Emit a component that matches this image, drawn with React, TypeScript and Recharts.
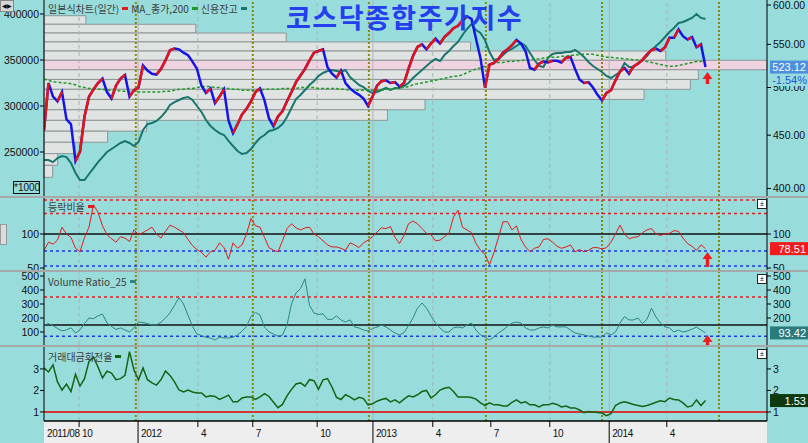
import React from "react";
import {
  ComposedChart,
  Line,
  XAxis,
  YAxis,
  ReferenceLine,
  ReferenceArea,
  ReferenceDot,
} from "recharts";

// weekly samples, Aug 2011 .. Jun 2014 (index = week)
const price = [
  455, 505, 490, 485, 495, 466, 461, 425, 434, 469,
  490, 498, 505, 510, 495, 488, 502, 510, 514, 490,
  497, 500, 525, 519, 515.5, 514.5, 521, 531, 543, 545,
  544, 540, 537, 529.5, 521, 502, 494, 499, 483, 490,
  498, 465, 452, 461, 471, 477, 485, 495, 499, 486,
  467, 459, 469, 474.5, 485, 495, 506, 513.5, 521, 531,
  540, 542, 544, 523, 515.5, 511, 519, 505, 499, 495,
  492, 488, 480, 490, 502, 507, 508, 505, 506, 501,
  505, 521, 536, 547, 550, 544, 551, 557, 551, 559,
  564, 570, 573, 580, 585, 582, 557, 533.5, 500, 526,
  528, 532.5, 540, 544, 549, 555.5, 551, 542, 522, 520,
  527, 529.5, 528.5, 530.5, 530.5, 528.5, 534, 535, 521, 509,
  505, 506, 500, 492, 486, 494, 497, 508, 518, 522,
  515.5, 524, 527, 531.5, 538, 543, 545, 542, 546.5, 558,
  558, 568.5, 560, 556, 559, 546.5, 550, 523.12,
];

const ma200 = [
  509.3, 508.2, 506.1, 506.1, 505.1, 505.1, 504.1, 503, 501, 500,
  499, 499, 498, 498, 497, 497, 497, 496, 496, 496,
  496, 495, 495, 495, 495, 495, 495, 496, 496, 497,
  498, 498, 499, 499, 500, 501, 501, 501, 500, 500,
  499, 499, 498, 498, 497, 497, 497, 497, 497, 498,
  498, 498, 498, 499, 499, 499, 499, 500, 500, 500,
  500, 499, 499, 499, 499, 499, 498, 498, 497, 497,
  497, 497, 497, 497, 497, 497, 498, 498, 499, 500,
  500, 501, 503, 504.1, 505.1, 506.1, 507.2, 508.2, 509.3, 510.3,
  511.4, 512.5, 512.5, 514.5, 516.6, 518.8, 521, 522, 524, 526,
  527.3, 528.4, 528.4, 529.5, 529.5, 530.5, 530.5, 531.4, 531.4, 532.5,
  532.5, 533.6, 534.7, 534.7, 534.7, 535.8, 535.8, 537, 537, 538,
  538, 538, 538, 537, 535.8, 534.7, 534.7, 533.6, 533.6, 532.5,
  532.5, 531.4, 531.4, 530.5, 529.5, 528.4, 527.3, 526, 525, 524,
  524, 525, 526, 527.3, 528.4, 529.5, 529.5, 530.5,
];

const credit = [
  241300, 241300, 239000, 243500, 245600, 244500, 238000, 227200, 219600, 219600,
  226100, 232600, 239000, 244500, 250000, 253300, 256500, 259800, 262000, 259800,
  256500, 260900, 273900, 280400, 281500, 283700, 288000, 293500, 301100, 304300,
  306500, 308700, 309800, 306500, 300000, 293500, 284800, 278300, 273900, 270600,
  268500, 262000, 256500, 251100, 247800, 248900, 253300, 259800, 265200, 268500,
  272800, 273900, 276100, 280400, 288000, 297800, 307600, 312000, 317400, 322800,
  327200, 332600, 335900, 338000, 339100, 338000, 337000, 339100, 331500, 327200,
  322800, 320600, 316300, 314100, 315200, 317400, 319600, 317400, 319600, 319600,
  321700, 325000, 330400, 334800, 339100, 343500, 347800, 351100, 348900, 355400,
  359800, 365200, 369600, 377200, 383700, 389100, 382600, 379300, 371700, 358700,
  350000, 351100, 355400, 359800, 362000, 365200, 368500, 365200, 357600, 350000,
  343500, 342400, 352200, 356500, 357600, 357600, 358700, 358700, 360900, 357600,
  353300, 347800, 343500, 340200, 337000, 332600, 330400, 333700, 337000, 346700,
  342400, 342400, 346700, 350000, 354300, 360900, 365200, 369600, 375000, 380400,
  384800, 390200, 391300, 393500, 395700, 400000, 395700, 394600,
];

const adr = [
  76, 88, 85, 91, 110, 100, 95, 79, 74, 95,
  110, 143, 132, 112, 99, 93, 88, 96, 94, 89,
  106, 99, 102, 106, 110, 100, 94, 104, 113, 110,
  106, 102, 92, 83, 77, 73, 66, 74, 76, 87,
  80, 63, 87, 79, 84, 100, 123, 112, 110, 95,
  80, 76, 74, 90, 108, 115, 109, 106, 109, 110,
  100, 96, 90, 84, 81, 81, 79, 76, 87, 84,
  80, 87, 91, 96, 103, 109, 108, 111, 95, 86,
  98, 115, 119, 115, 108, 101, 99, 90, 91, 96,
  101, 125, 135, 110, 106, 102, 86, 76, 70, 55,
  73, 95, 118, 118, 106, 112, 92, 81, 74, 79,
  81, 92, 93, 88, 82, 79, 81, 84, 74, 77,
  74, 76, 80, 80, 78, 80, 88, 100, 113, 100,
  93, 95, 96, 102, 106, 108, 100, 98, 100, 101,
  105, 104, 94, 86, 82, 76, 84, 78.51,
];

const volRatio = [
  150, 160, 145, 125, 108, 115, 130, 93, 114, 160,
  200, 195, 215, 228, 164, 140, 118, 129, 114, 100,
  130, 171, 168, 160, 150, 150, 170, 200, 236, 290,
  345, 300, 220, 140, 85, 75, 62, 57, 43, 62,
  58, 57, 62, 80, 105, 140, 210, 240, 220, 135,
  100, 85, 70, 78, 150, 300, 379, 410, 480, 290,
  236, 225, 230, 190, 190, 215, 186, 171, 186, 136,
  129, 114, 107, 125, 135, 150, 136, 114, 93, 79,
  95, 145, 200, 271, 307, 270, 215, 164, 129, 100,
  100, 129, 136, 129, 150, 164, 114, 79, 64, 43,
  64, 93, 114, 140, 164, 171, 164, 129, 114, 114,
  129, 136, 129, 150, 136, 136, 136, 114, 93, 86,
  79, 71, 64, 64, 64, 93, 79, 100, 164, 210,
  186, 186, 200, 160, 190, 270, 207, 164, 136, 129,
  100, 114, 100, 107, 120, 135, 114, 93.42,
];

const turnover = [
  3.05, 2.86, 3.19, 2.4, 2.02, 2.3, 1.95, 2.75, 2.2, 2.55,
  3.35, 3.55, 3.09, 2.58, 2.9, 2.81, 2.5, 2.55, 2.7, 3.8,
  2.95, 2.5, 3.05, 2.5, 2.35, 2.25, 2.5, 2.9, 2.7, 2.4,
  2.02, 1.93, 2.02, 1.93, 1.88, 1.88, 1.7, 1.75, 1.72, 1.58,
  1.68, 1.78, 1.47, 1.47, 1.65, 1.7, 1.7, 1.58, 1.7, 1.85,
  1.72, 1.45, 1.2, 1.35, 1.75, 2.05, 2.3, 2.35, 2.2, 2.5,
  2.45, 2.05, 2.49, 2.55, 2.16, 1.68, 1.58, 1.8, 1.7, 1.56,
  1.68, 1.62, 1.33, 1.38, 1.5, 1.58, 1.63, 1.47, 1.56, 1.42,
  1.6, 1.75, 1.7, 1.8, 1.95, 2.0, 1.65, 1.8, 2.02, 2.1,
  2.15, 1.95, 1.7, 1.7, 1.7, 1.67, 1.6, 1.42, 1.3, 1.42,
  1.33, 1.33, 1.28, 1.28, 1.45, 1.56, 1.42, 1.47, 1.33, 1.33,
  1.23, 1.33, 1.33, 1.4, 1.35, 1.23, 1.28, 1.19, 1.19, 1.09,
  0.97, 1.02, 1.0, 0.98, 0.95, 0.83, 0.92, 1.3, 1.42, 1.47,
  1.42, 1.35, 1.3, 1.25, 1.3, 1.37, 1.45, 1.52, 1.48, 1.65,
  1.58, 1.56, 1.42, 1.23, 1.28, 1.56, 1.3, 1.53,
];

// volume-at-price profile: band floor (index pts) and relative volume (%)
const profileLow = [575, 564, 553, 542, 531, 520, 509, 498, 487, 476, 465, 454, 443, 432, 421, 410];
const profileVol = [5.8, 21, 33.5, 59, 86, 100, 90.5, 89.4, 83, 52.7, 47.5, 14.2, 8.8, 4.3, 1.9, 1.2];
const PROFILE_STEP = 11;
const CURRENT_BAND = 5;

// date axis (week index where each month label starts)
const tickPos = [0, 7.8, 20.9, 34.2, 46.4, 60.7, 73.1, 86.4, 99.3, 112.4, 125.6, 138.4];
const tickLabel = ["2011/08", "10", "2012", "4", "7", "10", "2013", "4", "7", "10", "2014", "4"];
const monthGrid = [7.8, 34.2, 60.7, 86.4, 112.4, 138.4];
const yearGrid = [20.9, 73.1, 125.6];
const halfYear = [20.4, 46.4, 72.2, 98.2, 124, 150];
const dayChange = "-1.54%";

const XMAX = 160.67;
const BG = "#99dcdc";
const FONT = "'Liberation Sans', Arial, sans-serif";
const KFONT = "'Noto Sans CJK KR', 'Noto Sans', sans-serif";
const LAST = price.length - 1;

const rows: any[] = price.map((p, i) => ({
  w: i,
  price: p,
  ma: ma200[i],
  credit: credit[i],
  adr: adr[i],
  vr: volRatio[i],
  turn: turnover[i],
  up0: null,
  up1: null,
  up2: null,
}));
// rising weeks drawn red; split over three series so separate runs never join
for (let i = 1; i < rows.length; i++) {
  if (price[i] > price[i - 1]) {
    const k = "up" + (i % 3);
    rows[i - 1][k] = price[i - 1];
    rows[i][k] = price[i];
  }
}

const tickStyle = { fontSize: 10.5, fill: "#111", fontFamily: FONT };

const vLines = (axisId: string) => [
  ...monthGrid.map((x) => (
    <ReferenceLine key={"m" + x} yAxisId={axisId} x={x} stroke="#a8b6b6" strokeDasharray="4 3" />
  )),
  ...yearGrid.map((x) => (
    <ReferenceLine key={"y" + x} yAxisId={axisId} x={x} stroke="#a8b6b6" />
  )),
  ...halfYear.map((x) => (
    <ReferenceLine key={"h" + x} yAxisId={axisId} x={x} stroke="#8a8a0c" strokeWidth={2} strokeDasharray="2 2" />
  )),
];

const valueBox = (text: string, bg: string, sub?: string) => (props: any) => {
  const { cx, cy } = props;
  return (
    <g>
      {sub && <rect x={cx + 3} y={cy + 7} width={41} height={12} fill={BG} />}
      {sub && (
        <text x={cx + 40} y={cy + 17} textAnchor="end" fontSize={11} fontFamily={FONT} fill="#1e5ad8">
          {sub}
        </text>
      )}
      <rect x={cx + 3} y={cy - 6.5} width={41} height={13} fill={bg} />
      <text x={cx + 39} y={cy + 4} textAnchor="end" fontSize={11} fontFamily={FONT} fill="#fff">
        {text}
      </text>
    </g>
  );
};

const upArrow = (gap: number, len: number) => (props: any) => {
  const { cx, cy } = props;
  const x = cx + 2;
  const t = cy + gap;
  const h = t + 7;
  const b = t + len;
  return (
    <path
      d={`M${x},${t} L${x + 5},${h} L${x + 1.7},${h} L${x + 1.7},${b} L${x - 1.7},${b} L${x - 1.7},${h} L${x - 5},${h} Z`}
      fill="#ee1c1c"
    />
  );
};

const DateTick = (props: any) => {
  const { x, y, payload } = props;
  const idx = tickPos.indexOf(payload.value);
  const isYear = yearGrid.includes(payload.value);
  return (
    <g>
      {payload.value > 0 && (
        <line x1={x} x2={x} y1={y} y2={y + (isYear ? 22 : 6)} stroke="#000" />
      )}
      <text x={x + 3} y={y + 16} fontSize={10} letterSpacing={-0.4} fontFamily={FONT} fill="#111">
        {tickLabel[idx]}
      </text>
    </g>
  );
};

const Legend = ({ top, items }: { top: number; items: [string, string][] }) => (
  <div
    style={{
      position: "absolute",
      left: 48,
      top,
      fontFamily: KFONT,
      fontSize: 10,
      color: "#3c3c3c",
      whiteSpace: "nowrap",
      display: "flex",
      alignItems: "center",
    }}
  >
    {items.map(([label, color]) => (
      <span key={label} style={{ display: "inline-flex", alignItems: "center", marginRight: 3 }}>
        {label}
        <span style={{ display: "inline-block", width: 6, height: 3, background: color, marginLeft: 3 }} />
      </span>
    ))}
  </div>
);

const sep = (top: number) => (
  <div style={{ position: "absolute", left: 0, top, width: 808, height: 2, background: "#a7a9a9" }} />
);

const panelIcon = (top: number) => (
  <div
    style={{
      position: "absolute",
      left: 757,
      top,
      width: 8,
      height: 8,
      background: "#fff",
      border: "1px solid #222",
      fontSize: 7,
      lineHeight: "8px",
      textAlign: "center",
      fontFamily: FONT,
    }}
  >
    ±
  </div>
);

const margin = { top: 0, right: 0, bottom: 0, left: 0 };

export default function App() {
  return (
    <div
      style={{
        position: "fixed",
        left: 0,
        top: 0,
        width: 808,
        height: 443,
        background: BG,
        overflow: "hidden",
      }}
    >
      <div style={{ position: "absolute", left: 44, top: 421, width: 723, height: 22, background: "#eeeeee" }} />
      {sep(195.5)}
      {sep(270)}
      {sep(345)}

      {/* main: price (log, right) + credit balance (left) */}
      <div style={{ position: "absolute", left: 0, top: 0 }}>
        <ComposedChart width={808} height={196} data={rows} margin={margin}>
          <XAxis dataKey="w" type="number" domain={[0, XMAX]} hide allowDataOverflow />
          <YAxis
            yAxisId="left"
            domain={[202200, 415200]}
            ticks={[250000, 300000, 350000, 400000]}
            interval={0}
            width={44}
            allowDataOverflow
            tick={tickStyle}
            tickSize={4}
            tickMargin={1}
            stroke="#000"
          />
          <YAxis
            yAxisId="right"
            orientation="right"
            scale="log"
            domain={[393.4, 606.7]}
            ticks={[400, 450, 500, 550, 600]}
            tickFormatter={(v: number) => v.toFixed(2)}
            interval={0}
            width={41}
            allowDataOverflow
            tick={tickStyle}
            tickSize={4}
            tickMargin={2}
            stroke="#000"
          />
          {profileLow.map((lo, k) => (
            <ReferenceArea
              key={"p" + k}
              yAxisId="right"
              x1={0}
              x2={(profileVol[k] / 100) * XMAX}
              y1={lo}
              y2={lo + PROFILE_STEP}
              fill={k === CURRENT_BAND ? "#f0d3e1" : "#dfe3e2"}
              fillOpacity={1}
              stroke="#8f9696"
              strokeWidth={1}
            />
          ))}
          {vLines("right")}
          <Line yAxisId="left" dataKey="credit" stroke="#17766e" strokeWidth={2} dot={false} isAnimationActive={false} />
          <Line
            yAxisId="right"
            dataKey="ma"
            stroke="#229a28"
            strokeWidth={1.5}
            strokeDasharray="3 2"
            dot={false}
            isAnimationActive={false}
          />
          <Line yAxisId="right" dataKey="price" stroke="#1414e6" strokeWidth={2.5} dot={false} isAnimationActive={false} />
          {["up0", "up1", "up2"].map((k) => (
            <Line
              key={k}
              yAxisId="right"
              dataKey={k}
              stroke="#e61414"
              strokeWidth={2.5}
              dot={false}
              connectNulls={false}
              isAnimationActive={false}
            />
          ))}
          <ReferenceDot yAxisId="right" x={LAST} y={price[LAST]} shape={upArrow(5, 12)} />
          <ReferenceDot
            yAxisId="right"
            x={XMAX}
            y={price[LAST]}
            zIndex={2000}
            shape={valueBox(price[LAST].toFixed(2), "#4d8fe0", dayChange)}
          />
        </ComposedChart>
      </div>

      {/* advance/decline ratio */}
      <div style={{ position: "absolute", left: 0, top: 198 }}>
        <ComposedChart width={808} height={72} data={rows} margin={margin}>
          <XAxis dataKey="w" type="number" domain={[0, XMAX]} hide allowDataOverflow />
          <YAxis yAxisId="l" domain={[47.1, 152.9]} ticks={[50, 100]} interval={0} width={44} allowDataOverflow tick={tickStyle} tickSize={4} tickMargin={1} stroke="#000" />
          <YAxis yAxisId="r" orientation="right" domain={[47.1, 152.9]} ticks={[50, 100]} interval={0} width={41} allowDataOverflow tick={tickStyle} tickSize={4} tickMargin={2} stroke="#000" />
          {vLines("r")}
          <ReferenceLine yAxisId="r" y={150} stroke="#e02020" strokeWidth={1.5} strokeDasharray="3 3" />
          <ReferenceLine yAxisId="r" y={130} stroke="#e02020" strokeWidth={1.5} strokeDasharray="3 3" />
          <ReferenceLine yAxisId="r" y={100} stroke="#111" strokeWidth={1.5} />
          <ReferenceLine yAxisId="r" y={75} stroke="#1a3ae0" strokeWidth={1.5} strokeDasharray="3 3" />
          <ReferenceLine yAxisId="r" y={53} stroke="#1a3ae0" strokeWidth={1.5} strokeDasharray="3 3" />
          <Line yAxisId="r" dataKey="adr" stroke="#e41a1a" strokeWidth={1} dot={false} isAnimationActive={false} />
          <ReferenceDot yAxisId="r" x={LAST} y={adr[LAST]} shape={upArrow(3.5, 15)} />
          <ReferenceDot yAxisId="r" x={XMAX} y={adr[LAST]} zIndex={2000} shape={valueBox(adr[LAST].toFixed(2), "#f01c1c")} />
        </ComposedChart>
      </div>

      {/* volume ratio */}
      <div style={{ position: "absolute", left: 0, top: 272 }}>
        <ComposedChart width={808} height={73} data={rows} margin={margin}>
          <XAxis dataKey="w" type="number" domain={[0, XMAX]} hide allowDataOverflow />
          <YAxis yAxisId="l" domain={[7, 528.6]} ticks={[100, 200, 300, 400, 500]} interval={0} width={44} allowDataOverflow tick={tickStyle} tickSize={4} tickMargin={1} stroke="#000" />
          <YAxis yAxisId="r" orientation="right" domain={[7, 528.6]} ticks={[200, 300, 400, 500]} interval={0} width={41} allowDataOverflow tick={tickStyle} tickSize={4} tickMargin={2} stroke="#000" />
          {vLines("r")}
          <ReferenceLine yAxisId="r" y={350} stroke="#e02020" strokeWidth={1.5} strokeDasharray="3 3" />
          <ReferenceLine yAxisId="r" y={150} stroke="#111" strokeWidth={1.5} />
          <ReferenceLine yAxisId="r" y={70} stroke="#1a3ae0" strokeWidth={1.5} strokeDasharray="3 3" />
          <Line yAxisId="r" dataKey="vr" stroke="#2b8686" strokeWidth={1} dot={false} isAnimationActive={false} />
          <ReferenceDot yAxisId="r" x={LAST} y={volRatio[LAST]} shape={upArrow(2, 13)} />
          <ReferenceDot yAxisId="r" x={XMAX} y={volRatio[LAST]} zIndex={2000} shape={valueBox(volRatio[LAST].toFixed(2), "#2a7b7b")} />
        </ComposedChart>
      </div>

      {/* trading value turnover + date axis */}
      <div style={{ position: "absolute", left: 0, top: 347 }}>
        <ComposedChart width={808} height={96} data={rows} margin={margin}>
          <XAxis
            dataKey="w"
            type="number"
            domain={[0, XMAX]}
            ticks={tickPos}
            interval={0}
            height={22}
            allowDataOverflow
            axisLine={{ stroke: "#000", strokeWidth: 1.5 }}
            tickLine={false}
            tickSize={0}
            tickMargin={0}
            tick={<DateTick />}
          />
          <YAxis yAxisId="l" domain={[0.58, 4.02]} ticks={[1, 2, 3]} interval={0} width={44} allowDataOverflow tick={tickStyle} tickSize={4} tickMargin={1} stroke="#000" />
          <YAxis yAxisId="r" orientation="right" domain={[0.58, 4.02]} ticks={[1, 2, 3]} interval={0} width={41} allowDataOverflow tick={tickStyle} tickSize={4} tickMargin={2} stroke="#000" />
          {vLines("r")}
          <ReferenceLine yAxisId="r" y={1} stroke="#d43434" strokeWidth={2} />
          <Line yAxisId="r" dataKey="turn" stroke="#146414" strokeWidth={1.5} dot={false} isAnimationActive={false} />
          <ReferenceDot yAxisId="r" x={XMAX} y={turnover[LAST]} zIndex={2000} shape={valueBox(turnover[LAST].toFixed(2), "#0f3a10")} />
        </ComposedChart>
      </div>

      {/* titles, legends, small widgets */}
      <div
        style={{
          position: "absolute",
          left: 286,
          top: -3,
          fontFamily: KFONT,
          fontSize: 27,
          fontWeight: 700,
          color: "#2440ee",
          whiteSpace: "nowrap",
          letterSpacing: 1.5,
        }}
      >
        코스닥종합주가지수
      </div>
      <Legend
        top={1}
        items={[
          ["일본식차트(일간)", "#e41a1a"],
          ["MA_종가,200", "#229a28"],
          ["신용잔고", "#17766e"],
        ]}
      />
      <Legend top={199} items={[["등락비율", "#e41a1a"]]} />
      <Legend top={274} items={[["Volume Ratio_25", "#2b8686"]]} />
      <Legend top={349} items={[["거래대금회전율", "#146414"]]} />
      <div
        style={{
          position: "absolute",
          left: 13,
          top: 181,
          width: 25,
          height: 11,
          border: "1px solid #111",
          fontFamily: FONT,
          fontSize: 10,
          lineHeight: "11px",
          textAlign: "center",
          color: "#111",
          background: BG,
        }}
      >
        *1000
      </div>
      <div
        style={{
          position: "absolute",
          left: 0,
          top: 0,
          width: 12,
          height: 10,
          background: "#d6d6d6",
          border: "1px solid #888",
          fontSize: 6,
          lineHeight: "10px",
          textAlign: "center",
        }}
      >
        ◀▶
      </div>
      <div
        style={{
          position: "absolute",
          left: 0,
          top: 224,
          width: 5,
          height: 19,
          background: "#dcdcdc",
          border: "1px solid #999",
        }}
      />
      {panelIcon(199)}
      {panelIcon(274)}
      {panelIcon(349)}
    </div>
  );
}
